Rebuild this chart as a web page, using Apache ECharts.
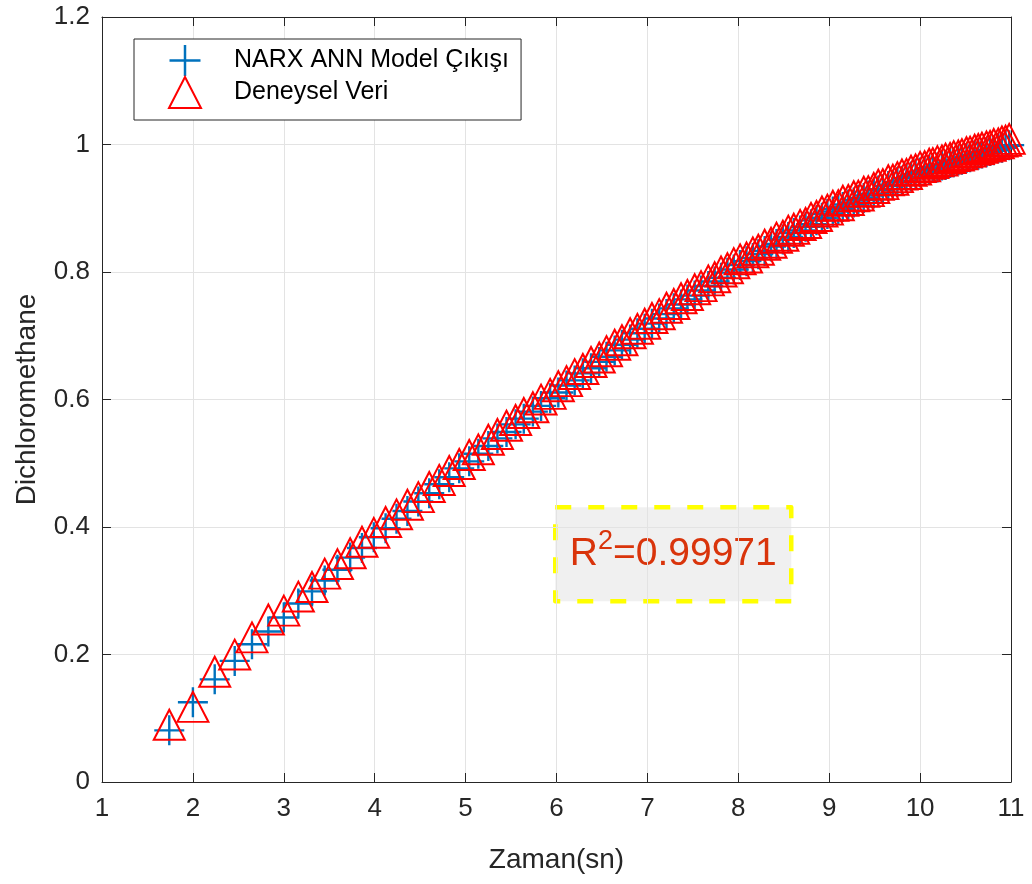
<!DOCTYPE html>
<html>
<head>
<meta charset="utf-8">
<script src="https://cdn.jsdelivr.net/npm/echarts@6/dist/echarts.min.js"></script>
<style>
html,body{margin:0;padding:0;background:#fff;}
#chart{width:1032px;height:884px;}
</style>
</head>
<body>
<div id="chart"></div>
<script>
// ---- data ----
const zaman = [
  1.74, 2.00, 2.24, 2.46, 2.65, 2.83, 3.00,
  3.16, 3.31, 3.45, 3.59, 3.73, 3.86, 3.99,
  4.12, 4.24, 4.36, 4.48, 4.60, 4.71, 4.82, 4.93,
  5.04, 5.14, 5.25, 5.35, 5.45, 5.55, 5.64, 5.74, 5.83, 5.93,
  6.02, 6.11, 6.20, 6.29, 6.38, 6.47, 6.55, 6.64, 6.72, 6.81, 6.89, 6.97,
  7.05, 7.13, 7.21, 7.29, 7.37, 7.44, 7.52, 7.59, 7.67, 7.74, 7.81, 7.88, 7.95,
  8.02, 8.09, 8.16, 8.22, 8.29, 8.36, 8.42, 8.49, 8.55, 8.61, 8.68, 8.74, 8.80, 8.86, 8.92, 8.98,
  9.04, 9.10, 9.15, 9.21, 9.27, 9.32, 9.38, 9.43, 9.49, 9.54, 9.59, 9.65, 9.70, 9.75, 9.80, 9.85, 9.90, 9.95,
  10.00, 10.05, 10.10, 10.14, 10.19, 10.24, 10.28, 10.33, 10.37, 10.42, 10.46, 10.51, 10.55, 10.60, 10.64, 10.68, 10.73, 10.77, 10.81, 10.86, 10.90, 10.94, 10.98
];
const deneyselVeri = [
  0.082, 0.110, 0.165, 0.192, 0.219, 0.247, 0.261,
  0.283, 0.298, 0.319, 0.334, 0.351, 0.369, 0.383,
  0.400, 0.412, 0.427, 0.439, 0.455, 0.466, 0.480, 0.491,
  0.505, 0.514, 0.529, 0.538, 0.551, 0.560, 0.571, 0.580, 0.592, 0.601,
  0.613, 0.621, 0.632, 0.640, 0.651, 0.658, 0.668, 0.678, 0.685, 0.696, 0.703, 0.711,
  0.720, 0.726, 0.736, 0.742, 0.751, 0.756, 0.765, 0.770, 0.779, 0.784, 0.793, 0.798, 0.806,
  0.812, 0.815, 0.823, 0.827, 0.835, 0.838, 0.846, 0.849, 0.857, 0.860, 0.866, 0.869, 0.877, 0.880, 0.887, 0.890,
  0.896, 0.897, 0.904, 0.905, 0.911, 0.912, 0.918, 0.919, 0.924, 0.929, 0.930, 0.936, 0.937, 0.941, 0.945, 0.946, 0.951, 0.953,
  0.957, 0.958, 0.962, 0.963, 0.966, 0.967, 0.970, 0.971, 0.974, 0.975, 0.977, 0.980, 0.981, 0.984, 0.985, 0.987, 0.989, 0.990, 0.993, 0.994, 0.997, 0.998, 1.001
];
const narxModel = [
  0.081, 0.125, 0.161, 0.190, 0.216, 0.236, 0.258,
  0.280, 0.299, 0.316, 0.333, 0.352, 0.367, 0.384,
  0.398, 0.413, 0.425, 0.440, 0.453, 0.467, 0.478, 0.492,
  0.503, 0.515, 0.527, 0.539, 0.549, 0.561, 0.570, 0.581, 0.590, 0.602,
  0.611, 0.622, 0.630, 0.641, 0.649, 0.659, 0.667, 0.677, 0.686, 0.694, 0.704, 0.711,
  0.719, 0.727, 0.734, 0.743, 0.749, 0.757, 0.763, 0.771, 0.778, 0.785, 0.791, 0.799, 0.804,
  0.811, 0.817, 0.822, 0.828, 0.833, 0.840, 0.844, 0.851, 0.855, 0.861, 0.865, 0.871, 0.875, 0.881, 0.885, 0.891,
  0.895, 0.899, 0.902, 0.906, 0.909, 0.913, 0.916, 0.920, 0.923, 0.928, 0.930, 0.935, 0.937, 0.941, 0.943, 0.947, 0.950, 0.954,
  0.956, 0.959, 0.960, 0.963, 0.964, 0.967, 0.968, 0.971, 0.972, 0.975, 0.976, 0.979, 0.980, 0.983, 0.984, 0.986, 0.988, 0.990, 0.991, 0.994, 0.995, 0.998, 0.999
];
const xTicks = { min: 1, max: 11, interval: 1 };
const yTicks = { min: 0, max: 1.2, interval: 0.2 };
const seriesNames = ['NARX ANN Model Çıkışı', 'Deneysel Veri'];
const xLabel = 'Zaman(sn)';
const yLabel = 'Dichloromethane';
const r2Text = '0.99971';

// ---- chart ----
const FONT = '"Liberation Sans", Arial, Helvetica, sans-serif';
const AX = '#262626';
const GRIDC = '#E3E3E3';
const crossPath = 'path://M0,13.8H30V16.2H0Z M13.8,0H16.2V30H13.8Z';

const chart = echarts.init(document.getElementById('chart'), null, { renderer: 'canvas' });

const mkX = (pos, main) => ({
  type: 'value', position: pos, min: xTicks.min, max: xTicks.max, interval: xTicks.interval,
  name: main ? xLabel : '', nameLocation: 'middle', nameGap: 64,
  nameTextStyle: { fontFamily: FONT, fontSize: 28, color: AX },
  axisLine: { show: true, onZero: false, lineStyle: { color: AX, width: 1 } },
  axisTick: { show: true, inside: true, length: 9, lineStyle: { color: AX, width: 1 } },
  axisLabel: { show: main, fontFamily: FONT, fontSize: 26, color: AX, margin: 14 },
  splitLine: { show: main, lineStyle: { color: GRIDC, width: 1 } }
});
const mkY = (pos, main) => ({
  type: 'value', position: pos, min: yTicks.min, max: yTicks.max, interval: yTicks.interval,
  name: main ? yLabel : '', nameLocation: 'middle', nameGap: 61, nameRotate: 90,
  nameTextStyle: { fontFamily: FONT, fontSize: 28, color: AX },
  axisLine: { show: true, onZero: false, lineStyle: { color: AX, width: 1 } },
  axisTick: { show: true, inside: true, length: 9, lineStyle: { color: AX, width: 1 } },
  axisLabel: { show: main, fontFamily: FONT, fontSize: 26, color: AX, margin: 12,
    formatter: v => String(Math.round(v * 10) / 10) },
  splitLine: { show: main, lineStyle: { color: GRIDC, width: 1 } }
});

const option = {
  animation: false,
  backgroundColor: '#ffffff',
  grid: { left: 102, right: 21, top: 17, bottom: 102, containLabel: false },
  xAxis: [mkX('bottom', true), mkX('top', false)],
  yAxis: [mkY('left', true), mkY('right', false)],
  legend: {
    orient: 'vertical', left: 134, top: 39,
    padding: [6, 12, 11, 34], itemGap: 0, itemWidth: 32, itemHeight: 31,
    borderColor: AX, borderWidth: 1, backgroundColor: '#ffffff',
    textStyle: { fontFamily: FONT, fontSize: 25, color: '#000000', padding: [0, 0, 0, 28] },
    data: seriesNames
  },
  series: [
    {
      name: seriesNames[0], type: 'scatter', xAxisIndex: 0, yAxisIndex: 0,
      symbol: crossPath, symbolSize: 30, symbolKeepAspect: true,
      itemStyle: { color: '#0072BD', opacity: 1 },
      data: zaman.map((x, i) => [x, narxModel[i]]), z: 2
    },
    {
      name: seriesNames[1], type: 'scatter', xAxisIndex: 0, yAxisIndex: 0,
      symbol: 'triangle', symbolSize: [31, 30], symbolOffset: [0, -5],
      itemStyle: { color: 'rgba(255,255,255,0)', borderColor: '#FF0000', borderWidth: 2, opacity: 1 },
      data: zaman.map((x, i) => [x, deneyselVeri[i]]), z: 3
    }
  ],
  graphic: [
    {
      type: 'group', left: 553, top: 505, z: 100,
      children: [
        { type: 'rect', shape: { x: 0, y: 0, width: 236, height: 94 },
          style: { fill: '#F0F0F0', stroke: '#FFFF00', lineWidth: 4.5, lineDash: [16, 17], lineJoin: 'round', lineCap: 'butt' } },
        { type: 'text', x: 118, y: 47,
          style: {
            text: '{a|R}{b|2}{a|=' + r2Text + '}',
            align: 'center', verticalAlign: 'middle',
            rich: {
              a: { fontFamily: FONT, fontSize: 39, fill: '#D9340B', lineHeight: 46 },
              b: { fontFamily: FONT, fontSize: 27, fill: '#D9340B', lineHeight: 46, padding: [0, 0, 26, 0] }
            }
          } }
      ]
    }
  ]
};
chart.setOption(option);
</script>
</body>
</html>
